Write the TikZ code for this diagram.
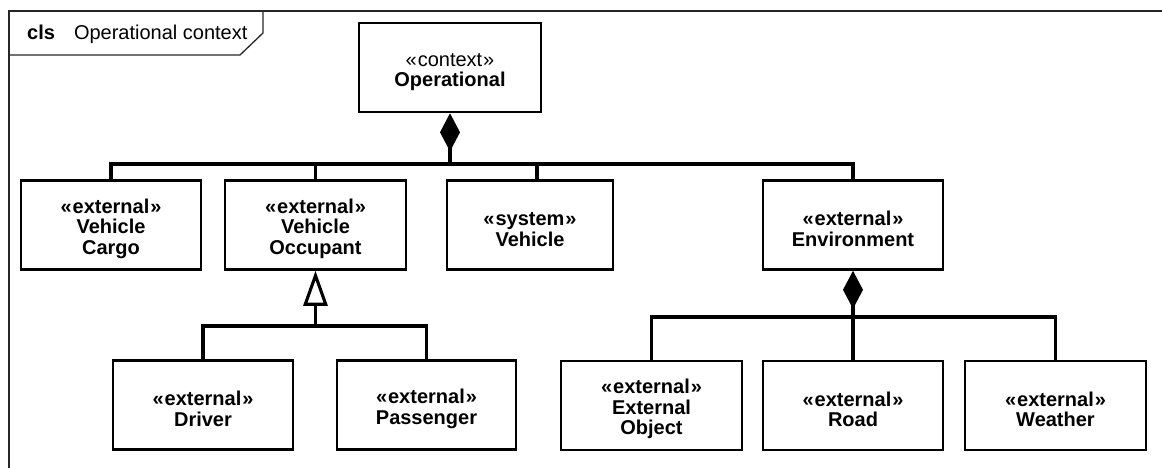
\documentclass[tikz,border=0pt]{standalone}
\usepackage{fontspec}
\setmainfont{Liberation Sans}
\usetikzlibrary{arrows.meta}
% stereotype line; the strut lowers the text block a little inside its box
\newcommand{\stereo}[1]{\rule{0pt}{22pt}«\kern1pt#1\kern1pt»}
\begin{document}
\begin{tikzpicture}[x=1pt,y=-1pt,
  umlclass/.style={draw, line width=2.6pt, fill=white, align=center, inner sep=0pt,
    minimum width=180pt, minimum height=89pt,
    font=\fontsize{20}{20.5}\selectfont\bfseries},
  link/.style={line width=3.1pt},
  frameline/.style={line width=1.3pt, draw=black!85},
  compose/.style={{Diamond[length=38pt,width=20pt]}-},
  generalize/.style={{Triangle[open,length=35pt,width=24pt,fill=white]}-}]

\useasboundingbox (0,0) rectangle (1162,468);

% diagram frame and its name tab
\draw[frameline] (9,468) -- (9,11) -- (1162,11);
\draw[frameline] (9,55) -- (240,55) -- (263,33) -- (263,11);
\node[anchor=base west, inner sep=0pt, font=\fontsize{20}{20}\selectfont] (title) at (27,40)
  {\textbf{cls}\hspace{19pt}Operational context};

% classes
\node[umlclass, minimum width=182pt] (op) at (450,67.5) {{\mdseries\stereo{context}}\\Operational};

\node[umlclass] (cargo) at (111,225) {\stereo{external}\\Vehicle\\Cargo};
\node[umlclass, minimum width=181pt] (occ) at (315.5,225) {\stereo{external}\\Vehicle\\Occupant};
\node[umlclass, minimum width=166pt] (veh) at (530,225) {\stereo{system}\\Vehicle};
\node[umlclass] (env) at (853,225) {\stereo{external}\\Environment};

\node[umlclass] (drv) at (203,405) {\stereo{external}\\Driver};
\node[umlclass, minimum width=179pt] (pas) at (426.5,405) {\stereo{external}\\Passenger};

\node[umlclass, minimum width=181pt] (eobj) at (651.5,405.5) {\stereo{external}\\External\\Object};
\node[umlclass] (road) at (853,405.5) {\stereo{external}\\Road};
\node[umlclass, minimum width=181pt] (wth) at (1055.5,405.5) {\stereo{external}\\Weather};

% junction points of the tree connectors
\coordinate (j1) at (450,164);
\coordinate (j2) at (315.5,326);
\coordinate (j3) at (853,317);

% Operational is composed of its parts
\draw[link, compose] (op.south) -- (j1);
\draw[link] (cargo.north) |- (j1) -| (env.north);
\draw[link] (occ.north) -- (occ.north |- j1);
\draw[link] ([xshift=7pt]veh.north) -- ([xshift=7pt]veh.north |- j1);

% occupant specialisations
\draw[link, generalize] (occ.south) -- (j2);
\draw[link] (drv.north) |- (j2) -| (pas.north);

% Environment is composed of its parts
\draw[link, compose] (env.south) -- (j3);
\draw[link] (eobj.north) |- (j3) -| (wth.north);
\draw[link] (road.north) -- (j3);

\end{tikzpicture}
\end{document}
